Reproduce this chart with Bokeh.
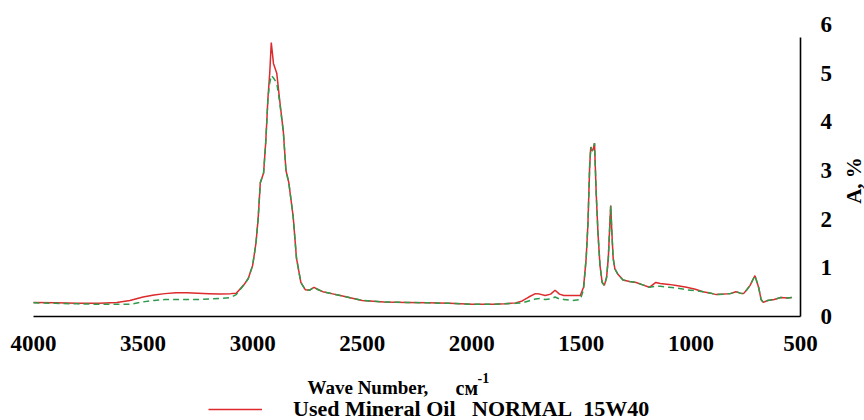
import math
from bokeh.plotting import figure
from bokeh.models import Range1d, FixedTicker, Legend, LegendItem, LinearAxis, Label
from bokeh.embed import file_html
from bokeh.resources import INLINE

# ---- data ----
wave_number = [4000, 3900, 3800, 3700, 3620, 3560, 3500, 3450, 3400, 3350, 3300, 3250,
               3200, 3150, 3100, 3075, 3040, 3020, 3000, 2985, 2975, 2965, 2950, 2940,
               2930, 2922, 2915, 2905, 2890, 2878, 2860, 2848, 2835, 2815, 2800, 2780,
               2760, 2740, 2720, 2700, 2680, 2640, 2600, 2560, 2500, 2400, 2300, 2200,
               2100, 2000, 1900, 1850, 1800, 1770, 1740, 1710, 1690, 1665, 1640, 1620,
               1600, 1580, 1540, 1505, 1490, 1478, 1470, 1462, 1457, 1450, 1445, 1440,
               1432, 1424, 1415, 1405, 1395, 1385, 1377, 1371, 1366, 1361, 1355, 1347,
               1335, 1310, 1280, 1250, 1220, 1190, 1160, 1140, 1100, 1060, 1020, 980,
               945, 910, 885, 850, 820, 795, 775, 760, 745, 730, 718, 708, 698, 690,
               680, 670, 650, 620, 590, 560, 540]

used_oil = [0.29, 0.28, 0.27, 0.27, 0.29, 0.33, 0.40, 0.44, 0.47, 0.49, 0.49, 0.48,
            0.47, 0.46, 0.47, 0.48, 0.65, 0.78, 1.05, 1.50, 2.00, 2.75, 2.95, 3.60,
            4.50, 5.00, 5.63, 5.20, 5.00, 4.50, 3.80, 3.00, 2.75, 2.05, 1.20, 0.70,
            0.55, 0.54, 0.60, 0.55, 0.51, 0.47, 0.43, 0.39, 0.33, 0.30, 0.29, 0.28,
            0.27, 0.25, 0.25, 0.26, 0.28, 0.32, 0.40, 0.47, 0.46, 0.43, 0.46, 0.54,
            0.46, 0.43, 0.43, 0.43, 0.60, 1.20, 1.90, 3.10, 3.48, 3.40, 3.45, 3.56,
            2.50, 1.70, 1.05, 0.70, 0.64, 0.80, 1.20, 1.80, 2.28, 1.75, 1.20, 0.98,
            0.88, 0.75, 0.72, 0.70, 0.65, 0.60, 0.70, 0.68, 0.66, 0.63, 0.60, 0.56,
            0.51, 0.48, 0.45, 0.46, 0.47, 0.51, 0.48, 0.47, 0.55, 0.64, 0.75, 0.84,
            0.70, 0.58, 0.35, 0.29, 0.33, 0.35, 0.39, 0.38, 0.39]

new_oil = [0.28, 0.27, 0.26, 0.25, 0.25, 0.25, 0.30, 0.33, 0.35, 0.35, 0.35, 0.35,
           0.36, 0.37, 0.39, 0.45, 0.65, 0.78, 1.05, 1.50, 2.00, 2.75, 2.95, 3.60,
           4.50, 4.80, 4.95, 4.90, 4.80, 4.45, 3.80, 3.00, 2.75, 2.05, 1.20, 0.70,
           0.55, 0.54, 0.60, 0.55, 0.51, 0.47, 0.43, 0.39, 0.33, 0.30, 0.29, 0.28,
           0.27, 0.25, 0.25, 0.26, 0.27, 0.28, 0.32, 0.36, 0.37, 0.35, 0.36, 0.40,
           0.36, 0.35, 0.33, 0.35, 0.55, 1.20, 1.90, 3.10, 3.48, 3.40, 3.45, 3.56,
           2.50, 1.70, 1.05, 0.70, 0.64, 0.80, 1.20, 1.80, 2.28, 1.75, 1.20, 0.98,
           0.88, 0.75, 0.72, 0.70, 0.65, 0.60, 0.62, 0.62, 0.60, 0.58, 0.55, 0.53,
           0.51, 0.48, 0.45, 0.46, 0.47, 0.51, 0.48, 0.47, 0.55, 0.64, 0.75, 0.84,
           0.70, 0.58, 0.35, 0.29, 0.33, 0.35, 0.39, 0.38, 0.39]

x_ticks = [4000, 3500, 3000, 2500, 2000, 1500, 1000, 500]
y_ticks = [0, 1, 2, 3, 4, 5, 6]
x_title = "Wave Number,"
x_unit = "см"
x_unit_power = "-1"
y_title = "A, %"
legend_label = "Used Mineral Oil\u00a0\u00a0 NORMAL\u00a0 15W40"

FONT = "Liberation Serif"

# The frame fills the whole canvas; axes are pinned at x=500 / y=0 so that
# titles and the legend can sit anywhere on the canvas without being clipped.
W, H = 864, 420
FL, FR, FT, FB = 33, 800, 24, 316          # pixel box of the data area
X0, X1, Y0, Y1 = 4000, 500, 0, 6
kx = (FR - FL) / (X0 - X1)
ky = (FB - FT) / (Y1 - Y0)
x_range = Range1d(X0 + FL / kx, X1 - (W - FR) / kx)
y_range = Range1d(Y0 - (H - FB) / ky, Y1 + FT / ky)

p = figure(width=W, height=H, x_range=x_range, y_range=y_range,
           x_axis_location=None, y_axis_location=None,
           output_backend="svg", toolbar_location=None, min_border=0)
p.grid.visible = False
p.outline_line_color = None
p.background_fill_color = "white"
p.border_fill_color = "white"


def style_axis(ax):
    ax.axis_line_color = "black"
    ax.axis_line_width = 1.6
    ax.major_tick_in = 0
    ax.major_tick_out = 0
    ax.minor_tick_in = 0
    ax.minor_tick_out = 0
    ax.major_label_text_font = FONT
    ax.major_label_text_font_style = "bold"
    ax.major_label_text_font_size = "23px"
    ax.major_label_text_color = "black"


xaxis = LinearAxis(fixed_location=0, bounds=(X0, X1),
                   ticker=FixedTicker(ticks=x_ticks), major_label_standoff=19)
style_axis(xaxis)
p.add_layout(xaxis, "below")

# right axis line (stops a little below the top tick, as in the reference)
yline = LinearAxis(fixed_location=X1, bounds=(0, 5.73),
                   ticker=FixedTicker(ticks=[]))
style_axis(yline)
p.add_layout(yline, "right")

# right axis labels
ylab = LinearAxis(fixed_location=X1, ticker=FixedTicker(ticks=y_ticks),
                  major_label_standoff=20)
style_axis(ylab)
ylab.axis_line_color = None
p.add_layout(ylab, "right")

red = p.line(wave_number, used_oil, line_color="#dd2a2c", line_width=1.5)
green = p.line(wave_number, new_oil, line_color="#2f9a4c", line_width=1.5,
               line_dash="6 4")

# axis titles (screen units measured from the canvas' bottom-left corner)
p.add_layout(Label(x=307, y=H - 387, x_units="screen", y_units="screen",
                   text=x_title, text_font=FONT, text_font_style="bold",
                   text_font_size="19px", text_color="black",
                   text_baseline="alphabetic", text_align="left"))
p.add_layout(Label(x=455, y=H - 387, x_units="screen", y_units="screen",
                   text=x_unit, text_font=FONT, text_font_style="bold",
                   text_font_size="20px", text_color="black",
                   text_baseline="alphabetic", text_align="left"))
p.add_layout(Label(x=477, y=H - 377, x_units="screen", y_units="screen",
                   text=x_unit_power, text_font=FONT, text_font_style="bold",
                   text_font_size="14px", text_color="black",
                   text_baseline="alphabetic", text_align="left"))
p.add_layout(Label(x=853, y=H - 180, x_units="screen", y_units="screen",
                   text=y_title, angle=math.pi / 2, text_font=FONT,
                   text_font_style="bold", text_font_size="21px",
                   text_color="black", text_align="center",
                   text_baseline="middle"))

legend = Legend(items=[LegendItem(label=legend_label, renderers=[red])],
                location=(208, -2), padding=0, margin=0, spacing=0,
                glyph_width=54, glyph_height=22, label_height=22,
                label_standoff=31, border_line_color=None,
                background_fill_alpha=0,
                label_text_font=FONT, label_text_font_style="bold",
                label_text_font_size="22px", label_text_color="black")
p.add_layout(legend, "center")

open("out.html", "w").write(file_html(p, INLINE))
